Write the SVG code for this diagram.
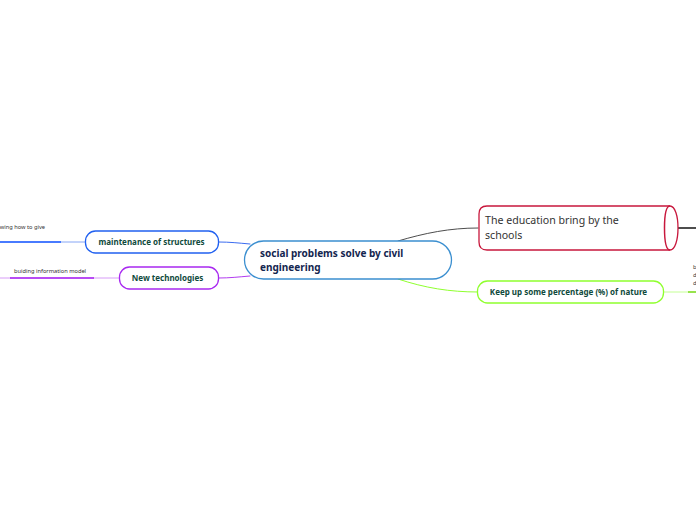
<svg xmlns="http://www.w3.org/2000/svg" width="696" height="520" viewBox="0 0 696 520">
<style>
text{font-family:"Noto Sans","Open Sans",sans-serif}
.c{fill:none;stroke-linecap:round}
.n{fill:#fff;stroke-width:1.3}
.t{font-size:8px;font-weight:700;fill:#0f4a3c}
.s{font-size:5.700px;fill:#333}
</style>
<g id="connectors">
<path class="c" stroke="#4d4d4d" d="M398 241C425 233 450 228 478 228"/>
<path class="c" stroke="#8fff2e" d="M398 279C425 288 450 292 478 292"/>
<path class="c" stroke="#3b6cf0" d="M219 242C230 242 238 243 250 244"/>
<path class="c" stroke="#b23cf0" d="M219 278C230 278 238 277 250 276"/>
<path class="c" stroke="#86a6f5" d="M61 242H85"/>
<path class="c" stroke="#d79cf7" d="M94 278H119"/>
<path class="c" stroke="#d79cf7" d="M0 278H10"/>
<path class="c" stroke="#c4ff94" d="M664 292H688"/>
<path fill="none" stroke="#0b4fff" stroke-width="1.600" d="M0 242H61"/>
<path fill="none" stroke="#a010f0" stroke-width="1.600" d="M10 278H94"/>
<path fill="none" stroke="#222" stroke-width="1.600" d="M678 228H696"/>
<path fill="none" stroke="#7ddc20" stroke-width="1.600" d="M688 292H696"/>
</g>
<g id="root">
<rect class="n" x="244.500" y="241" width="207" height="38" rx="19" stroke="#3b8fd0"/>
<text x="260" y="257" font-size="10" font-weight="700" fill="#14264f">social problems solve by civil</text>
<text x="260" y="271" font-size="10" font-weight="700" fill="#14264f">engineering</text>
</g>
<g id="education">
<path class="n" stroke="#c8173c" stroke-width="1.500" d="M487 206H670C675 206 678 216 678 228S675 250 670 250H487Q479 250 479 242V214Q479 206 487 206Z"/>
<path fill="none" stroke="#c8173c" stroke-width="1.500" d="M670 206C666 206 664.500 216 664.500 228S666 250 670 250"/>
<text x="485" y="224" font-size="10.600" fill="#333">The education bring by the</text>
<text x="485" y="239" font-size="10.600" fill="#333">schools</text>
</g>
<g id="nature">
<rect class="n" x="477.500" y="281" width="186" height="22" rx="10" stroke="#8fff2e"/>
<text class="t" x="568.500" y="295" text-anchor="middle">Keep up some percentage (%) of nature</text>
</g>
<g id="maintenance">
<rect class="n" x="85.500" y="231" width="133" height="22" rx="10" stroke="#2060f0"/>
<text class="t" x="151.500" y="245" text-anchor="middle">maintenance of structures</text>
</g>
<g id="technologies">
<rect class="n" x="119.500" y="267" width="99" height="22" rx="10" stroke="#a828f0"/>
<text class="t" x="167.500" y="281" text-anchor="middle">New technologies</text>
</g>
<g id="giving"><text class="s" x="45" y="229" text-anchor="end">wing how to give</text></g>
<g id="bim"><text class="s" x="14" y="273">buiding information model</text></g>
<g id="edge"><text class="s" x="693" y="269">b</text><text class="s" x="693" y="277">d</text><text class="s" x="693" y="285">d</text></g>
</svg>
